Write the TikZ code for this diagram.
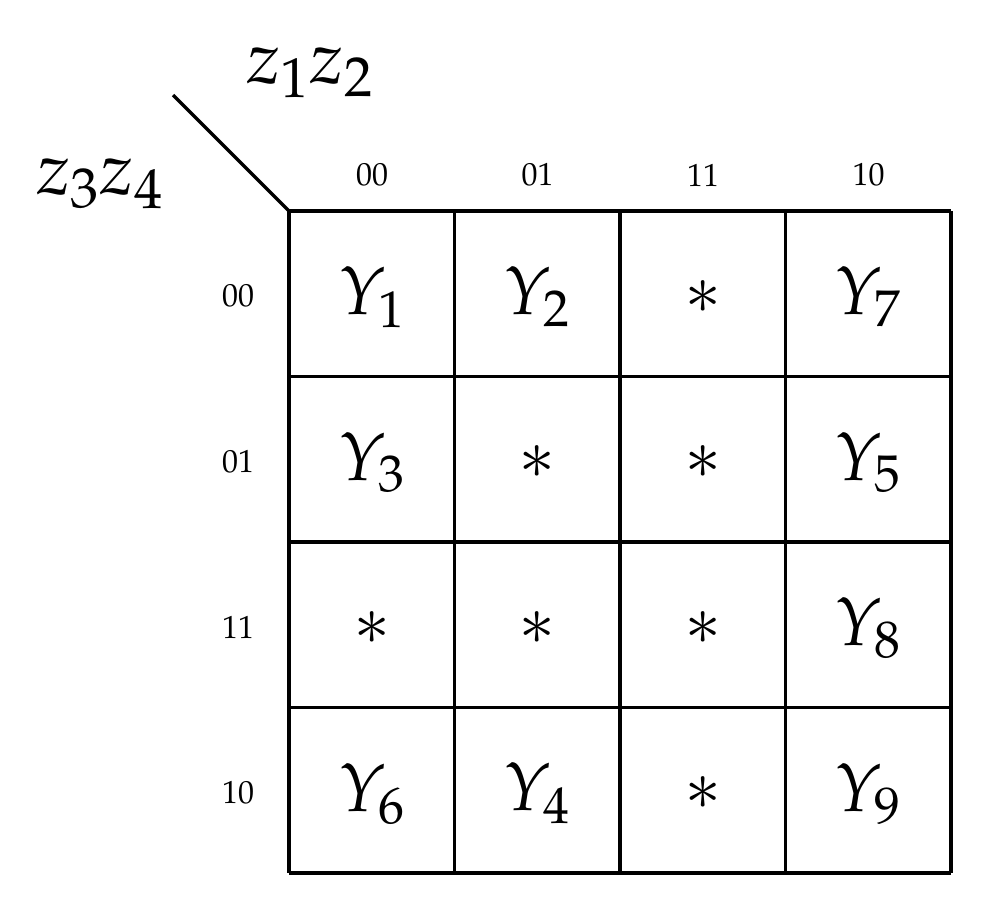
\documentclass[tikz,border=0pt]{standalone}
\usepackage{mathpazo}
\begin{document}
\begin{tikzpicture}[x=0.5pt,y=-0.5pt,
  big/.style={font=\fontsize{34}{40}\selectfont},
  zl/.style={font=\fontsize{37}{44}\selectfont},
  lab/.style={font=\fontsize{16}{19}\selectfont},
  ln/.style={line width=1.6pt}]
\useasboundingbox (0,0) rectangle (993,917);
\foreach \i in {0,...,4}{
  \draw[ln] (289+165.5*\i,211) -- (289+165.5*\i,873);
  \draw[ln] (289,211+165.5*\i) -- (951,211+165.5*\i);
}
\coordinate (c) at (289,211);
\coordinate (d) at (173,95);
\draw[ln] (d) -- (c);
\node[zl] (t1) at (310,73) {$z_1z_2$};
\node[zl] (t2) at (100,184) {$z_3z_4$};
\foreach \s [count=\k from 0] in {00,01,11,10}{
  \node[lab] (col\k) at (372+165.5*\k,175) {$\mathrm{\s}$};
  \node[lab] (row\k) at (238,296+165.5*\k) {$\mathrm{\s}$};
}
\foreach \t [count=\n from 0] in {$Y_1$,$Y_2$,$*$,$Y_7$,$Y_3$,$*$,$*$,$Y_5$,$*$,$*$,$*$,$Y_8$,$Y_6$,$Y_4$,$*$,$Y_9$}{
  \pgfmathtruncatemacro{\r}{int(\n/4)}
  \pgfmathtruncatemacro{\cc}{mod(\n,4)}
  \node[big] (m\n) at (372+165.5*\cc,297+165.5*\r) {\t};
}
\end{tikzpicture}
\end{document}
